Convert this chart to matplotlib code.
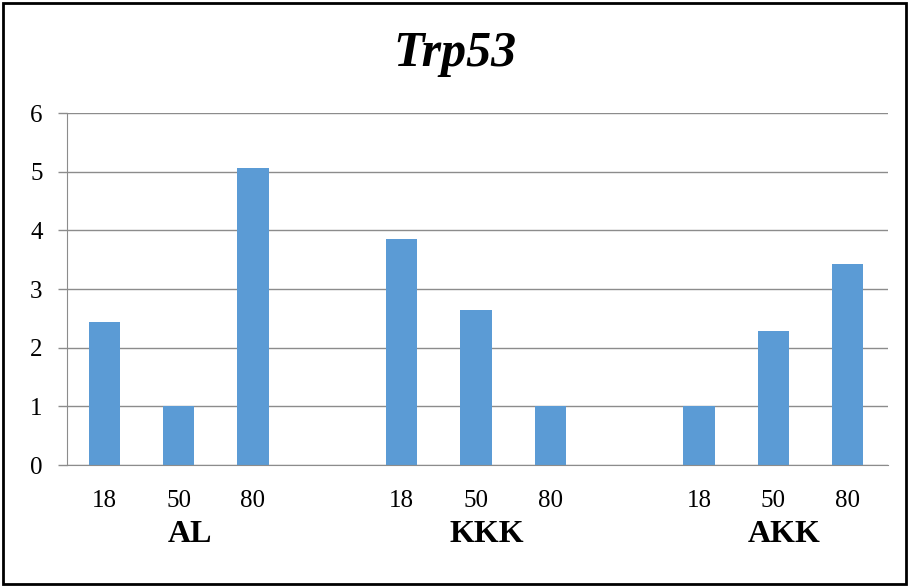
import numpy as np
import matplotlib.pyplot as plt
from matplotlib.patches import Rectangle
from matplotlib.transforms import blended_transform_factory

plt.rcParams['font.family'] = ['Liberation Serif', 'DejaVu Serif']

groups = ['AL', 'KKK', 'AKK']
ages = ['18', '50', '80']
al_vals = [2.44, 1.0, 5.07]
kkk_vals = [3.86, 2.64, 1.0]
akk_vals = [1.0, 2.28, 3.42]

values = [al_vals, kkk_vals, akk_vals]
bar_color = '#5B9BD5'
grid_color = '#8c8c8c'

W, H = 910, 587
fig = plt.figure(figsize=(W / 100, H / 100), dpi=100)
ax = fig.add_axes([67 / W, 1 - 465 / H, 821 / W, 352 / H])

# 11 slots: three bars per group with an empty slot between groups
xpos, heights, labels = [], [], []
for g, vals in enumerate(values):
    for i, v in enumerate(vals):
        xpos.append(g * 4 + i)
        heights.append(v)
        labels.append(ages[i])

ax.bar(xpos, heights, width=0.42, color=bar_color, zorder=3)
ax.set_xlim(-0.5, 10.54)
ax.set_ylim(0, 6)
ax.set_yticks(range(7))
ax.yaxis.grid(True, color=grid_color, lw=1.0, zorder=0)

for side in ['top', 'right']:
    ax.spines[side].set_visible(False)
ax.spines['left'].set_color(grid_color)
ax.spines['bottom'].set_color(grid_color)
ax.spines['bottom'].set_zorder(4)

ax.tick_params(axis='y', length=6.5, width=1.0, color=grid_color,
               labelsize=18, pad=11)
ax.set_xticks(xpos)
ax.set_xticklabels(labels, fontsize=18)
ax.tick_params(axis='x', length=0, pad=18)

trans = blended_transform_factory(ax.transData, fig.transFigure)
for g, name in enumerate(groups):
    ax.text(g * 4 + 1.15, 1 - 535 / H, name, transform=trans, ha='center',
            va='center', fontsize=23, fontweight='bold')

fig.text(0.5, 1 - 54 / H, 'Trp53', ha='center', va='center',
         fontsize=36, fontweight='bold', fontstyle='italic')

# outer frame around the chart
fig.patches.append(Rectangle((3 / W, 3 / H), 903 / W, 581 / H,
                             transform=fig.transFigure, fill=False,
                             edgecolor='black', lw=2))

fig.savefig('out.png', dpi=100)
